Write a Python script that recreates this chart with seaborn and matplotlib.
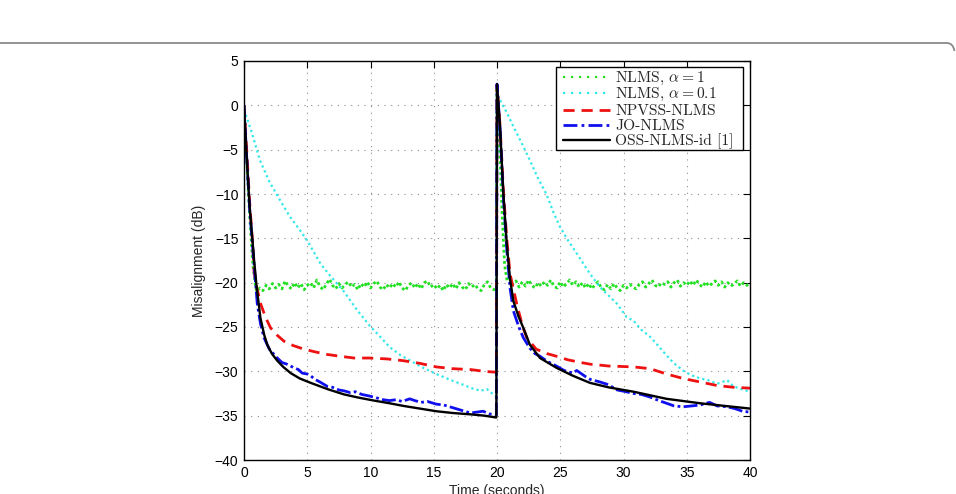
import numpy as np
import pandas as pd
import matplotlib
matplotlib.use("Agg")
import matplotlib.pyplot as plt
import seaborn as sns
from matplotlib.lines import Line2D
from matplotlib.path import Path
from matplotlib.patches import PathPatch, Rectangle

# ---------------- data ----------------
oss_t = [0, 0.2, 0.45, 0.8, 1.0, 1.3, 1.6, 1.84, 2.2, 2.63, 3.1, 3.69, 4.4, 5.27, 6.59,
         7.9, 9.0, 10.28, 11.5, 12.6, 13.9, 15.2, 16.5, 17.9, 19.0, 19.9, 19.95,
         20.0, 20.24, 20.5, 20.77, 21.03, 21.3, 21.7, 22.08, 22.6, 23.4, 24.7, 26.0,
         27.35, 28.8, 30.8, 33.4, 36.05, 38.0, 40.0]
oss_v = [0, -5.5, -11.5, -17.5, -20.5, -24.0, -25.9, -27.0, -28.0, -28.8, -29.5, -30.2,
         -30.8, -31.3, -32.0, -32.6, -32.95, -33.3, -33.6, -33.9, -34.2, -34.5, -34.7,
         -34.85, -35.0, -35.2, -35.2,
         2.4, -2.4, -9.9, -15.6, -19.6, -22.1, -23.8, -25.1, -27.0, -28.5, -29.6, -30.5,
         -31.3, -31.8, -32.3, -33.1, -33.6, -33.9, -34.2]

jo_t = [0, 0.2, 0.45, 0.8, 1.05, 1.3, 1.58, 2.0, 2.63, 3.0, 3.4, 3.95, 4.3, 4.6, 5.0,
        5.27, 5.6, 6.0, 6.59, 7.0, 7.5, 7.9, 8.4, 8.8, 9.3, 9.96, 10.5, 11.0, 11.5,
        12.0, 12.5, 13.1, 13.5, 14.0, 14.5, 15.2, 15.8, 16.5, 17.2, 17.9, 18.4, 18.9,
        19.4, 19.9, 19.95,
        20.0, 20.24, 20.5, 20.77, 21.03, 21.3, 21.7, 22.08, 22.6, 23.0, 23.4, 24.0,
        24.7, 25.3, 26.0, 26.3, 26.6, 27.0, 27.35, 28.14, 28.8, 29.5, 30.2, 30.8,
        31.4, 32.1, 32.8, 33.4, 34.0, 34.7, 35.4, 36.05, 36.8, 37.4, 38.2, 38.8,
        39.4, 40.0]
jo_v = [0, -5.5, -11.8, -18.0, -22.4, -24.6, -26.2, -27.5, -28.5, -29.0, -29.2, -29.6,
        -29.8, -30.2, -30.3, -30.5, -30.9, -31.2, -31.7, -31.8, -32.1, -32.2, -32.4,
        -32.3, -32.6, -32.8, -33.0, -33.2, -33.3, -33.2, -33.4, -33.1, -33.3, -33.5,
        -33.4, -33.7, -33.8, -34.1, -34.4, -34.7, -34.6, -34.5, -34.8, -34.9, -34.9,
        2.4, -2.6, -10.3, -16.2, -20.6, -23.2, -24.9, -26.2, -27.4, -28.0, -28.3,
        -28.9, -29.4, -29.9, -30.2, -29.9, -30.2, -30.6, -30.9, -31.2, -31.5, -32.1,
        -32.3, -32.5, -32.6, -32.9, -33.3, -33.6, -33.9, -34.0, -33.9, -33.8, -33.5,
        -33.9, -34.0, -34.2, -34.5, -34.6]

npvss_t = [0, 0.2, 0.45, 0.7, 0.79, 1.0, 1.32, 1.7, 2.1, 2.6, 3.16, 3.9, 4.74, 5.6,
           6.59, 7.6, 8.7, 9.96, 11.3, 12.6, 13.9, 15.2, 16.5, 17.9, 19.0, 19.9, 19.95,
           20.0, 20.24, 20.5, 20.77, 21.03, 21.56, 22.0, 22.35, 23.1, 23.95, 24.7,
           25.6, 26.6, 27.4, 28.14, 28.8, 30.8, 32.1, 33.4, 34.7, 36.05, 37.4, 38.7,
           40.0]
npvss_v = [0, -4.7, -11.0, -16.0, -18.7, -20.5, -22.4, -23.9, -25.1, -25.9, -26.6,
           -27.1, -27.5, -27.8, -28.1, -28.3, -28.5, -28.5, -28.6, -28.8, -29.1, -29.5,
           -29.7, -29.8, -30.0, -30.1, -30.1,
           2.3, -2.2, -9.5, -15.0, -19.0, -22.4, -24.8, -26.2, -27.5, -28.0, -28.3,
           -28.7, -29.0, -29.2, -29.3, -29.4, -29.5, -29.7, -30.3, -30.8, -31.2, -31.6,
           -31.8, -31.9]

nlms01_t = [0, 0.2, 0.6, 1.26, 2.0, 2.85, 3.6, 4.43, 5.06, 6.06, 6.8, 7.9, 9.0, 9.96,
            10.7, 11.54, 12.4, 13.4, 14.3, 15.2, 16.2, 17.3, 18.0, 18.7, 19.2, 19.7,
            19.95,
            20.0, 20.24, 20.8, 21.3, 22.0, 22.6, 23.2, 23.9, 24.5, 24.98, 25.6, 26.3,
            27.35, 28.14, 29.5, 30.25, 30.8, 31.4, 32.1, 32.8, 33.4, 34.0, 34.7, 35.3,
            36.05, 36.7, 37.4, 37.8, 38.2, 38.7, 39.3, 40.0]
nlms01_v = [-0.5, -1.3, -3.0, -6.2, -8.6, -10.7, -12.5, -14.1, -15.4, -17.9, -19.2,
            -21.0, -23.2, -24.9, -26.0, -27.3, -28.2, -29.0, -29.7, -30.3, -30.9,
            -31.5, -31.9, -32.2, -32.0, -32.6, -32.8,
            1.2, 0.6, -0.9, -2.4, -4.4, -6.2, -8.1, -10.0, -12.2, -13.7, -15.2, -16.7,
            -19.0, -20.5, -22.4, -23.9, -24.3, -25.3, -26.1, -27.2, -28.2, -29.1,
            -29.9, -30.4, -30.8, -31.0, -31.4, -31.2, -31.0, -31.7, -32.0, -32.3]

nlms1_t = [0, 0.2, 0.45, 0.7, 0.9,
           1.0, 1.25, 1.5, 1.75, 2.0, 2.25, 2.5, 2.75, 3.0, 3.25,
           3.5, 3.75, 4.0, 4.25, 4.5, 4.75, 5.0, 5.25, 5.5, 5.75,
           6.0, 6.25, 6.5, 6.75, 7.0, 7.25, 7.5, 7.75, 8.0, 8.25,
           8.5, 8.75, 9.0, 9.25, 9.5, 9.75, 10.0, 10.25, 10.5, 10.75,
           11.0, 11.25, 11.5, 11.75, 12.0, 12.25, 12.5, 12.75, 13.0, 13.25,
           13.5, 13.75, 14.0, 14.25, 14.5, 14.75, 15.0, 15.25, 15.5, 15.75,
           16.0, 16.25, 16.5, 16.75, 17.0, 17.25, 17.5, 17.75, 18.0, 18.25,
           18.5, 18.75, 19.0, 19.25, 19.5, 19.75, 19.95,
           20.0, 20.2, 20.4, 20.6, 20.8,
           21.0, 21.25, 21.5, 21.75, 22.0, 22.25, 22.5, 22.75, 23.0, 23.25,
           23.5, 23.75, 24.0, 24.25, 24.5, 24.75, 25.0, 25.25, 25.5, 25.75,
           26.0, 26.25, 26.5, 26.75, 27.0, 27.25, 27.5, 27.75, 28.0, 28.25,
           28.5, 28.75, 29.0, 29.25, 29.5, 29.75, 30.0, 30.25, 30.5, 30.75,
           31.0, 31.25, 31.5, 31.75, 32.0, 32.25, 32.5, 32.75, 33.0, 33.25,
           33.5, 33.75, 34.0, 34.25, 34.5, 34.75, 35.0, 35.25, 35.5, 35.75,
           36.0, 36.25, 36.5, 36.75, 37.0, 37.25, 37.5, 37.75, 38.0, 38.25,
           38.5, 38.75, 39.0, 39.25, 39.5, 39.75, 40.0]
nlms1_v = [0, -6.0, -12.5, -18.0, -20.3,
           -21.0, -20.6, -20.9, -20.3, -20.7, -20.1, -20.6, -20.2, -20.7, -19.8,
           -20.4, -20.7, -20.0, -20.6, -20.1, -20.8, -20.3, -20.0, -20.6, -19.7,
           -20.4, -20.8, -20.2, -19.6, -20.3, -20.7, -20.1, -20.6, -20.2, -19.9,
           -20.5, -20.2, -20.8, -20.1, -20.5, -19.9, -20.6, -20.1, -19.8, -20.5,
           -20.8, -20.2, -20.6, -20.1, -20.5, -19.9, -20.6, -20.9, -20.3, -20.0,
           -20.6, -20.1, -20.7, -20.0, -19.8, -20.5, -20.2, -20.7, -20.3, -20.9,
           -20.2, -20.6, -20.1, -20.7, -20.0, -20.5, -20.8, -20.1, -20.5, -20.2,
           -20.7, -20.9, -20.2, -19.9, -20.6, -20.8, -20.4,
           2.0, -4.0, -12.0, -18.0, -19.8,
           -19.6, -20.2, -19.8, -20.5, -19.9, -20.4, -19.7, -20.3, -20.6, -20.0,
           -20.4, -19.9, -20.3, -19.7, -20.4, -20.6, -19.9, -20.5, -20.1, -19.7,
           -20.3, -19.9, -20.5, -20.0, -20.6, -20.1, -20.7, -20.2, -19.9, -20.6,
           -20.8, -20.2, -20.7, -20.1, -20.6, -20.9, -20.3, -20.6, -20.2, -20.5,
           -20.7, -20.2, -19.9, -20.5, -20.1, -19.7, -20.3, -20.5, -20.0, -20.2,
           -19.9, -20.5, -20.0, -19.7, -20.4, -20.0, -20.3, -19.8, -20.3, -19.7,
           -20.2, -20.5, -19.9, -20.4, -20.1, -19.8, -20.3, -19.9, -20.5, -20.0,
           -20.4, -20.1, -19.8, -20.4, -20.0, -20.3, -20.1]

labels = [r"NLMS, $\alpha = 1$", r"NLMS, $\alpha = 0.1$", "NPVSS-NLMS", "JO-NLMS",
          "OSS-NLMS-id [1]"]
x_ticks = [0, 5, 10, 15, 20, 25, 30, 35, 40]
y_ticks = [-40, -35, -30, -25, -20, -15, -10, -5, 0, 5]

# ---------------- figure ----------------
sns.set_style("white")
plt.rcParams["font.family"] = ["Liberation Sans", "DejaVu Sans"]
plt.rcParams["mathtext.fontset"] = "cm"

W, H = 956, 494
fig = plt.figure(figsize=(W / 100, H / 100), dpi=100)
ax = fig.add_axes([244 / W, 34 / H, 506 / W, 399 / H])

series = [
    (nlms1_t, nlms1_v, "#22e022", dict(linestyle=(0, (1, 1.0)), linewidth=2.0)),
    (nlms01_t, nlms01_v, "#30e8e8", dict(linestyle=(0, (1, 1.4)), linewidth=1.6)),
    (npvss_t, npvss_v, "#ee1111", dict(linestyle=(0, (4, 2.5)), linewidth=2.0)),
    (jo_t, jo_v, "#1010ee", dict(linestyle=(0, (5, 1.2, 1, 1.2)), linewidth=2.0)),
    (oss_t, oss_v, "#000000", dict(linestyle="-", linewidth=1.7)),
]
legend_styles = [
    dict(linestyle=(0, (1, 2.6)), linewidth=1.6),
    dict(linestyle=(0, (1, 2.6)), linewidth=1.6),
    dict(linestyle=(0, (4, 2.5)), linewidth=2.0),
    dict(linestyle=(0, (5, 1.5, 1, 1.5)), linewidth=2.0),
    dict(linestyle="-", linewidth=1.7),
]
for (t, v, c, style) in series:
    df = pd.DataFrame({"t": t, "v": v})
    sns.lineplot(data=df, x="t", y="v", ax=ax, color=c, estimator=None, sort=False,
                 **style)

ax.set_xlim(0, 40)
ax.set_ylim(-40, 5)
ax.set_xticks(x_ticks)
ax.set_yticks(y_ticks)
ax.grid(True, linestyle=(0, (1, 5)), color="#8c8c8c", linewidth=0.8)
ax.tick_params(direction="in", top=True, right=True, length=5, width=0.8,
               labelsize=10, pad=4, colors="black")
for s in ax.spines.values():
    s.set_color("black")
    s.set_linewidth(1.0)
ax.set_xlabel("Time (seconds)", fontsize=10, labelpad=3)
ax.set_ylabel("Misalignment (dB)", fontsize=10, labelpad=6)

# ---- legend box (MATLAB-style, evenly spaced rows) ----
def fx(px):
    return px / W


def fy(py):
    return 1 - py / H


fig.add_artist(Rectangle((fx(555.5), fy(150)), fx(742.5) - fx(555.5), fy(67) - fy(150),
                         transform=fig.transFigure, facecolor="white",
                         edgecolor="black", linewidth=1.0, zorder=5))
row_y = [76.7, 93.2, 109.7, 124.7, 140.2]
for (t, v, c, style), ls, lab, yy in zip(series, legend_styles, labels, row_y):
    fig.add_artist(Line2D([fx(563), fx(610)], [fy(yy), fy(yy)], color=c,
                          transform=fig.transFigure, zorder=6, **ls))
    fig.text(fx(615), fy(yy + 5.2), lab, family="cmr10", fontsize=11.2,
             ha="left", va="baseline", zorder=7)

# outer page-border fragment at the top of the figure
yb = 1 - 43 / H
path = Path([(0, yb), (947 / W, yb), (953 / W, yb), (954.5 / W, yb - 8 / H)],
            [Path.MOVETO, Path.LINETO, Path.CURVE3, Path.CURVE3])
fig.patches.append(PathPatch(path, transform=fig.transFigure, fill=False,
                             edgecolor="#8a8a8a", linewidth=1.3))

fig.savefig("out.png", dpi=100)
